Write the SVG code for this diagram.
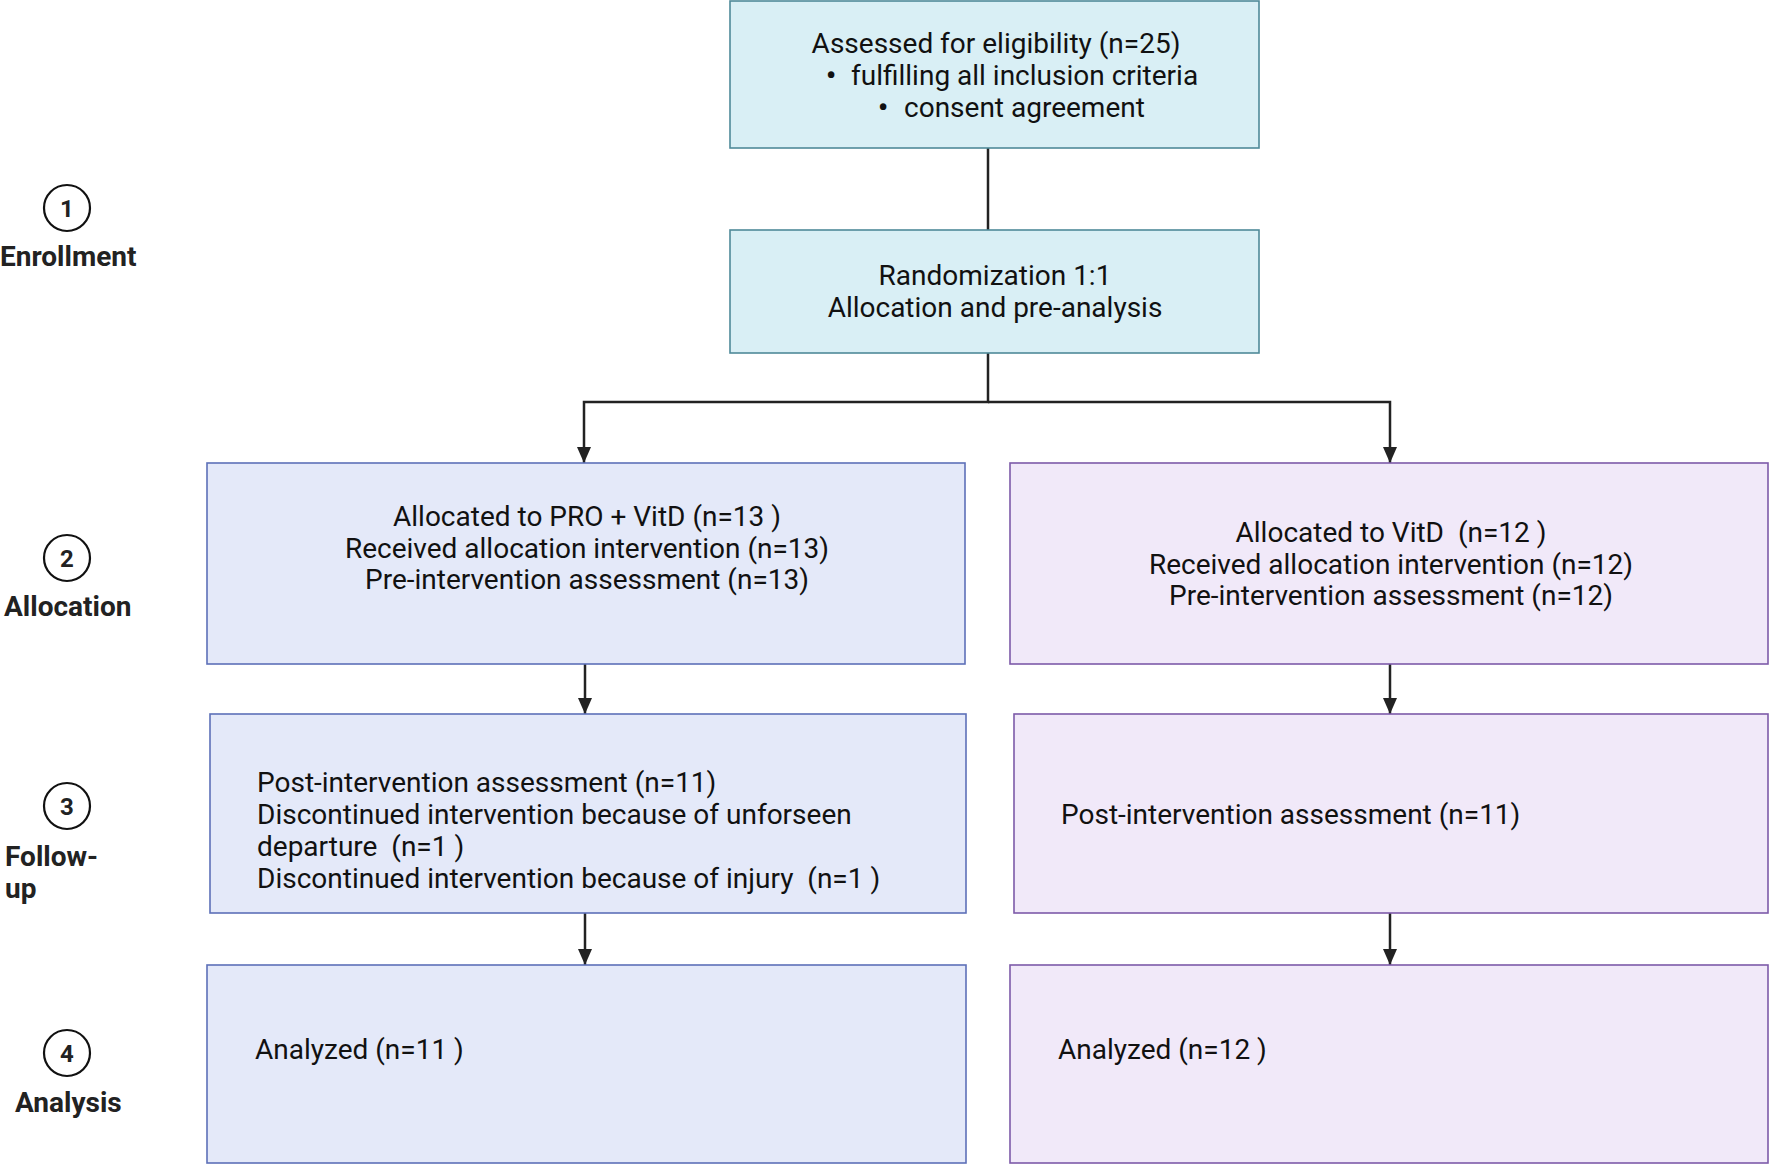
<svg xmlns="http://www.w3.org/2000/svg" width="1770" height="1165" viewBox="0 0 1770 1165">
<defs>
<marker id="arr" markerUnits="userSpaceOnUse" markerWidth="16" markerHeight="14" refX="16" refY="7" orient="auto" viewBox="0 0 16 14">
<path d="M0,0 L16,7 L0,14 Z" fill="#222"/>
</marker>
<style>
.t{font-family:Roboto,"Liberation Sans",sans-serif;font-size:28px;fill:#111;}
.c{text-anchor:middle;}
.b{font-weight:bold;}
.lbl{font-family:Roboto,"Liberation Sans",sans-serif;font-size:28px;font-weight:bold;fill:#222;}
.num{font-family:Roboto,"Liberation Sans",sans-serif;font-size:24px;font-weight:bold;fill:#222;text-anchor:middle;}
.circ{fill:none;stroke:#111;stroke-width:2.2;}
.cyan{fill:#d9eff5;stroke:#4f8a99;stroke-width:1.6;}
.blue{fill:#e4e9f9;stroke:#5d70b8;stroke-width:1.6;}
.purp{fill:#f1e9f9;stroke:#7d5aa9;stroke-width:1.6;}
.ln{fill:none;stroke:#222;stroke-width:2.5;}
</style>
</defs>
<rect width="1770" height="1165" fill="#fff"/>

<g id="stages">
<g id="stage1"><circle class="circ" cx="67" cy="208" r="23"/><text class="num" x="67" y="217">1</text><text class="lbl" x="0" y="266">Enrollment</text></g>
<g id="stage2"><circle class="circ" cx="67" cy="558" r="23"/><text class="num" x="67" y="567">2</text><text class="lbl" x="4" y="616">Allocation</text></g>
<g id="stage3"><circle class="circ" cx="67" cy="806" r="23"/><text class="num" x="67" y="815">3</text><text class="lbl" x="5" y="866">Follow-</text><text class="lbl" x="5" y="898">up</text></g>
<g id="stage4"><circle class="circ" cx="67" cy="1053" r="23"/><text class="num" x="67" y="1062">4</text><text class="lbl" x="15" y="1112">Analysis</text></g>
</g>

<g id="connectors">
<line class="ln" x1="988" y1="148" x2="988" y2="230"/>
<polyline class="ln" points="988,353 988,402 584,402 584,463" marker-end="url(#arr)"/>
<polyline class="ln" points="988,402 1390,402 1390,463" marker-end="url(#arr)"/>
<line class="ln" x1="585" y1="664" x2="585" y2="714" marker-end="url(#arr)"/>
<line class="ln" x1="1390" y1="664" x2="1390" y2="714" marker-end="url(#arr)"/>
<line class="ln" x1="585" y1="913" x2="585" y2="965" marker-end="url(#arr)"/>
<line class="ln" x1="1390" y1="913" x2="1390" y2="965" marker-end="url(#arr)"/>
</g>

<g id="n_eligibility">
<rect class="cyan" x="730" y="1" width="529" height="147"/>
<text class="t c" x="996" y="53">Assessed for eligibility (n=25)</text>
<text class="t" x="826" y="85"><tspan class="b">•</tspan><tspan x="851">fulfilling all inclusion criteria</tspan></text>
<text class="t" x="878" y="117"><tspan class="b">•</tspan><tspan x="904">consent agreement</tspan></text>
</g>

<g id="n_random">
<rect class="cyan" x="730" y="230" width="529" height="123"/>
<text class="t c" x="995" y="285">Randomization 1:1</text>
<text class="t c" x="995" y="317">Allocation and pre-analysis</text>
</g>

<g id="n_alloc_pro">
<rect class="blue" x="207" y="463" width="758" height="201"/>
<text class="t c" x="587" y="526" xml:space="preserve">Allocated to PRO + VitD (n=13 )</text>
<text class="t c" x="587" y="558">Received allocation intervention (n=13)</text>
<text class="t c" x="587" y="589">Pre-intervention assessment (n=13)</text>
</g>

<g id="n_alloc_vitd">
<rect class="purp" x="1010" y="463" width="758" height="201"/>
<text class="t c" x="1391" y="542" xml:space="preserve">Allocated to VitD  (n=12 )</text>
<text class="t c" x="1391" y="574">Received allocation intervention (n=12)</text>
<text class="t c" x="1391" y="605">Pre-intervention assessment (n=12)</text>
</g>

<g id="n_follow_pro">
<rect class="blue" x="210" y="714" width="756" height="199"/>
<text class="t" x="257" y="792">Post-intervention assessment (n=11)</text>
<text class="t" x="257" y="824">Discontinued intervention because of unforseen</text>
<text class="t" x="257" y="856" xml:space="preserve">departure  (n=1 )</text>
<text class="t" x="257" y="888" xml:space="preserve">Discontinued intervention because of injury  (n=1 )</text>
</g>

<g id="n_follow_vitd">
<rect class="purp" x="1014" y="714" width="754" height="199"/>
<text class="t" x="1061" y="824">Post-intervention assessment (n=11)</text>
</g>

<g id="n_anal_pro">
<rect class="blue" x="207" y="965" width="759" height="198"/>
<text class="t" x="255" y="1059" xml:space="preserve">Analyzed (n=11 )</text>
</g>

<g id="n_anal_vitd">
<rect class="purp" x="1010" y="965" width="758" height="198"/>
<text class="t" x="1058" y="1059" xml:space="preserve">Analyzed (n=12 )</text>
</g>
</svg>
